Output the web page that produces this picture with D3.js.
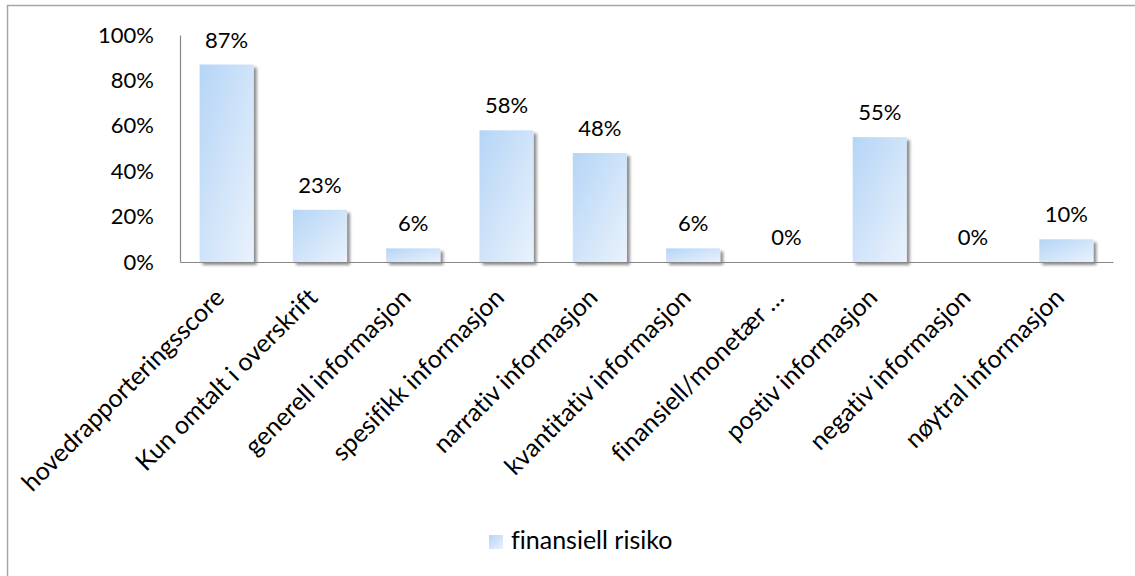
<!DOCTYPE html>
<html>
<head>
<meta charset="utf-8">
<script src="https://cdn.jsdelivr.net/npm/d3@7"></script>
<style>
  html, body { margin: 0; padding: 0; background: #fff; }
  svg { display: block; }
  text { font-family: Lato, "Open Sans", sans-serif; fill: #000; font-variant-ligatures: none; }
</style>
</head>
<body>
<svg id="chart" width="1135" height="576"></svg>
<script>
const categories = [
  "hovedrapporteringsscore",
  "Kun omtalt i overskrift",
  "generell informasjon",
  "spesifikk informasjon",
  "narrativ informasjon",
  "kvantitativ informasjon",
  "finansiell/monetær …",
  "postiv informasjon",
  "negativ informasjon",
  "nøytral informasjon"
];
const values = [0.87, 0.23, 0.06, 0.58, 0.48, 0.06, 0.00, 0.55, 0.00, 0.10];
const yTicks = [0, 0.2, 0.4, 0.6, 0.8, 1.0];
const seriesName = "finansiell risiko";

const W = 1135, H = 576;
const svg = d3.select("#chart");
const fsNum = 22, fsTxt = 25;

const defs = svg.append("defs");
const grad = defs.append("linearGradient").attr("id", "barGrad")
  .attr("x1", "0%").attr("y1", "0%").attr("x2", "100%").attr("y2", "100%");
grad.append("stop").attr("offset", "0%").attr("stop-color", "#b5d5f6");
grad.append("stop").attr("offset", "100%").attr("stop-color", "#eaf2fc");
const f = defs.append("filter").attr("id", "shadow")
  .attr("x", "-20%").attr("y", "-20%").attr("width", "150%").attr("height", "150%");
f.append("feGaussianBlur").attr("in", "SourceAlpha").attr("stdDeviation", 1.5).attr("result", "b");
f.append("feOffset").attr("in", "b").attr("dx", 2.5).attr("dy", 2.5).attr("result", "o");
f.append("feComponentTransfer").attr("in", "o").attr("result", "s")
  .append("feFuncA").attr("type", "linear").attr("slope", 0.45);
const m = f.append("feMerge");
m.append("feMergeNode").attr("in", "s");
m.append("feMergeNode").attr("in", "SourceGraphic");

// chart border (right/bottom edges fall outside the view)
svg.append("path")
  .attr("d", `M7.5,${H + 5} V5.5 H${W + 5}`)
  .attr("fill", "none").attr("stroke", "#a6a6a6").attr("stroke-width", 1.5);

const x0 = 180, x1 = 1113, y0 = 262, y1 = 35;
const x = d3.scaleBand().domain(categories).range([x0, x1]).paddingInner(0.42).paddingOuter(0.21);
const y = d3.scaleLinear().domain([0, 1]).range([y0, y1]);

// y axis
const yAxis = d3.axisLeft(y).tickValues(yTicks).tickSize(0).tickPadding(26)
  .tickFormat(d3.format(".0%"));
const gy = svg.append("g").attr("transform", `translate(${x0},0)`).call(yAxis);
gy.select(".domain").attr("stroke", "#868686").attr("stroke-width", 1.2);
gy.selectAll("text").attr("font-size", fsNum).attr("font-family", "Lato").attr("fill", "#000");

// bars
svg.append("g").selectAll("rect").data(values).join("rect")
  .attr("x", (d, i) => x(categories[i]))
  .attr("y", d => y(d))
  .attr("width", x.bandwidth())
  .attr("height", d => y0 - y(d))
  .attr("fill", "url(#barGrad)")
  .attr("filter", "url(#shadow)");

// x axis
const xAxis = d3.axisBottom(x).tickSize(0).tickPadding(0);
const gx = svg.append("g").attr("transform", `translate(0,${y0})`).call(xAxis);
gx.select(".domain").attr("stroke", "#868686").attr("stroke-width", 1.2);
gx.selectAll(".tick text")
  .attr("font-size", fsTxt).attr("font-family", "Lato").attr("fill", "#000")
  .attr("text-anchor", "end")
  .attr("dy", "0.35em").attr("y", 0)
  .attr("transform", "translate(-7,31) rotate(-45)");

// data labels
svg.append("g").selectAll("text").data(values).join("text")
  .attr("x", (d, i) => x(categories[i]) + x.bandwidth() / 2)
  .attr("y", d => y(d) - 17)
  .attr("text-anchor", "middle")
  .attr("font-size", fsNum)
  .text(d => d3.format(".0%")(d));

// legend
const lg = svg.append("g").attr("transform", "translate(489,535)");
lg.append("rect").attr("width", 14).attr("height", 14).attr("fill", "url(#barGrad)");
lg.append("text").attr("x", 22).attr("y", 14).attr("font-size", fsTxt).text(seriesName);
</script>
</body>
</html>
